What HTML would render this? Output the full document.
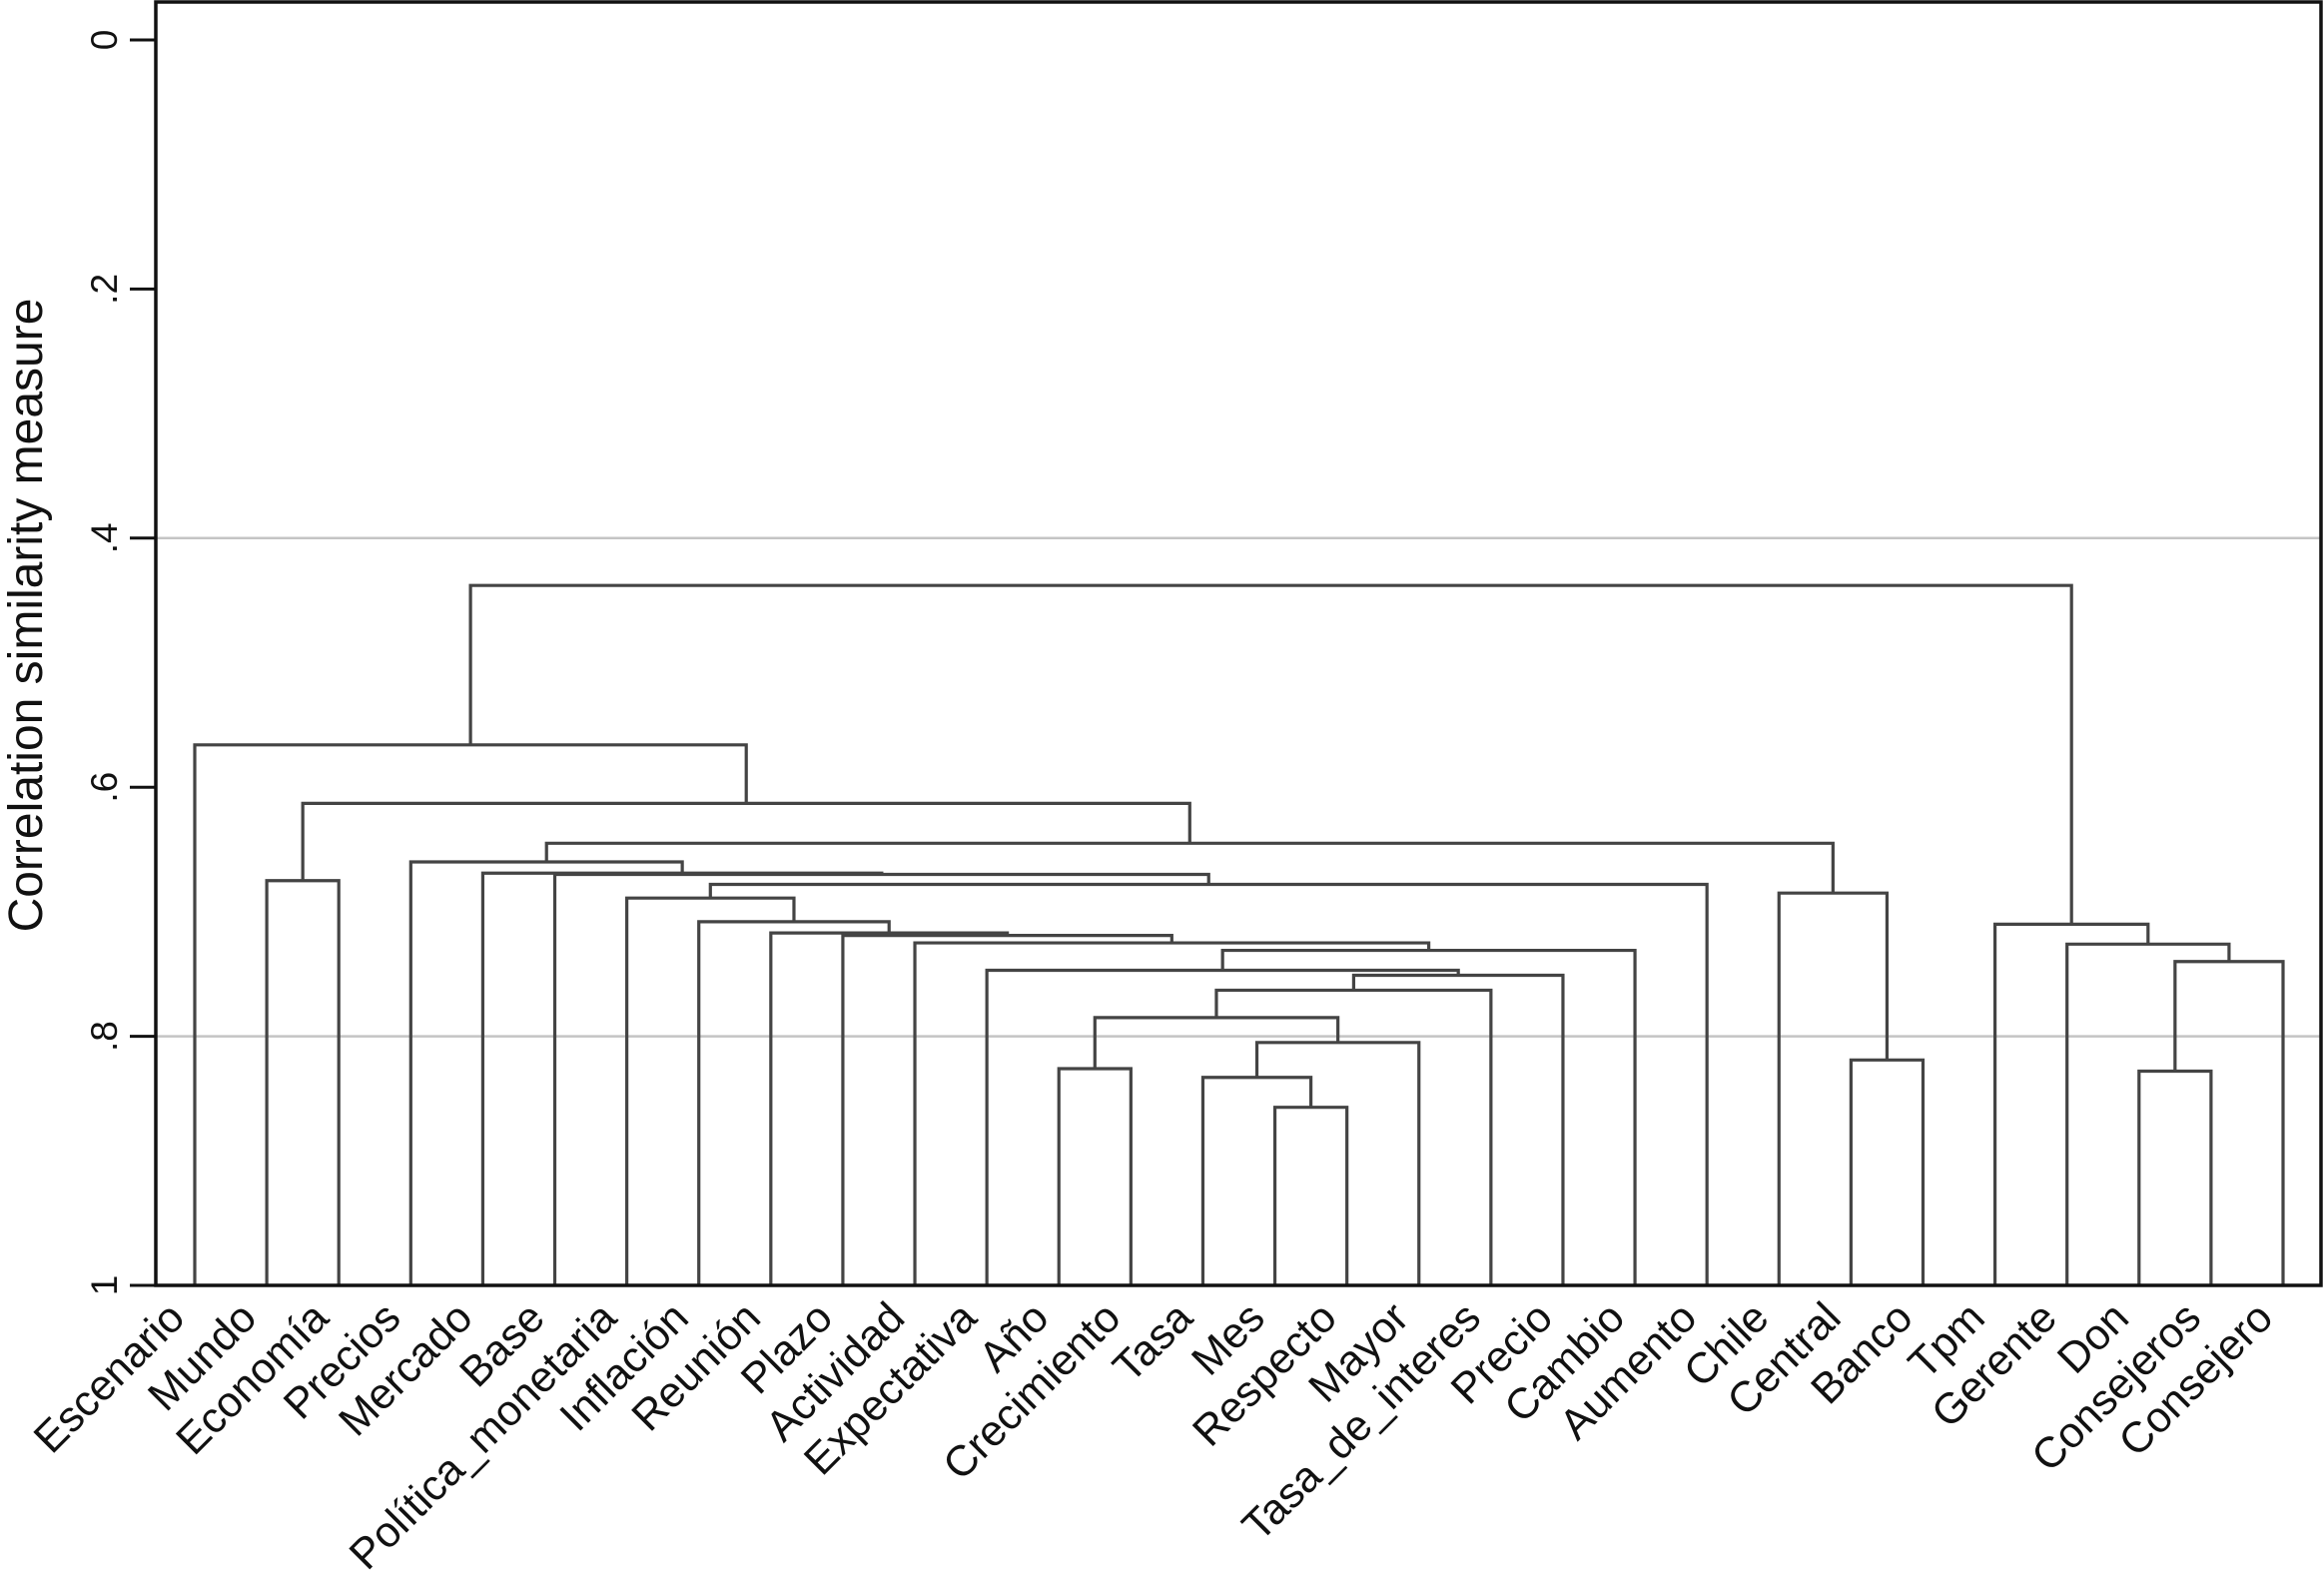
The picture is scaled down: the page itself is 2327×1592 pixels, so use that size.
<!DOCTYPE html>
<html><head><meta charset="utf-8"><style>
html,body{margin:0;padding:0;background:#fff;}
svg{display:block;}
text{font-family:"Liberation Sans",Arial,sans-serif;fill:#111;}
</style></head><body>
<svg id="chart" xmlns="http://www.w3.org/2000/svg" width="2327" height="1592" viewBox="0 0 2327 1592">
<rect x="0" y="0" width="2327" height="1592" fill="#fff"/>
<g id="grid"></g>
<g id="tree"></g>
<g id="axis"></g>
<g id="labels"></g>
</svg>
<script>
const leaves = ["Escenario","Mundo","Economía","Precios","Mercado","Base","Política_monetaria","Inflación","Reunión","Plazo","Actividad","Expectativa","Año","Crecimiento","Tasa","Mes","Respecto","Mayor","Tasa_de_interes","Precio","Cambio","Aumento","Chile","Central","Banco","Tpm","Gerente","Don","Consejeros","Consejero"];
// merges: ids < 30 are leaves, id 30+k is merge k
const mergeLeft  = [15,14,12,31,32,34,35,11,37,10, 9, 8, 7, 6,43, 5, 4, 3,23,22,47, 1,51, 0,27,54,26,25,53];
const mergeRight = [16,30,13,17,33,18,19,36,20,38,39,40,41,42,21,44,45,46,24,48,49, 2,50,52,28,29,55,56,57];
const mergeHeight = [.857,.833,.826,.805,.785,.763,.751,.747,.731,.725,.719,.717,.708,.689,.678,.670,.669,.660,.819,.685,.645,.675,.613,.566,.828,.740,.726,.710,.438];
const yTicks = [0,.2,.4,.6,.8,1];
const yTickLabels = ["0",".2",".4",".6",".8","1"];
const gridValues = [.4,.8];

const NS="http://www.w3.org/2000/svg";
const L=156,R=2324,T=2,B=1287;
const y0=40,y1=1287;
const yScale=v=>y0+v*(y1-y0);
const xLeaf=i=>195+i*(2286-195)/(leaves.length-1);
function mk(tag,attrs,parent){const e=document.createElementNS(NS,tag);for(const k in attrs)e.setAttribute(k,attrs[k]);parent.appendChild(e);return e;}

const grid=document.getElementById('grid');
gridValues.forEach(v=>{
  const l=mk('line',{x1:L,x2:R,y1:yScale(v),y2:yScale(v),stroke:'#c4c4c4','stroke-width':2.5},grid);
  
  
});

const tree=document.getElementById('tree');
const posX={},posY={};
leaves.forEach((n,i)=>{posX[i]=xLeaf(i);posY[i]=yScale(1);});
mergeLeft.forEach((a,k)=>{
  const b=mergeRight[k],id=leaves.length+k,y=yScale(mergeHeight[k]);
  const d=`M${posX[a]},${posY[a]}V${y}H${posX[b]}V${posY[b]}`;
  const p=mk('path',{d:d,fill:'none',stroke:'#444','stroke-width':3.2},tree);
  
  
  posX[id]=(posX[a]+posX[b])/2;posY[id]=y;
});

const axis=document.getElementById('axis');
const fr=mk('rect',{x:L,y:T,width:R-L,height:B-T,fill:'none',stroke:'#111','stroke-width':3.5},axis);


yTicks.forEach((v,i)=>{
  const y=yScale(v);
  const t=mk('line',{x1:130,x2:L,y1:y,y2:y,stroke:'#111','stroke-width':3},axis);
  
  
  const tx=mk('text',{x:117,y:y,'font-size':37,'text-anchor':'middle',transform:`rotate(-90 117 ${y})`},axis);
  tx.textContent=yTickLabels[i];
  
  
});
const title=mk('text',{x:42,y:616,'font-size':48,'text-anchor':'middle',transform:'rotate(-90 42 616)'},axis);
title.textContent='Correlation similarity measure';



const lab=document.getElementById('labels');
leaves.forEach((n,i)=>{
  const x=xLeaf(i)-8,y=1322;
  const t=mk('text',{x:x,y:y,'font-size':43,'text-anchor':'end',transform:`rotate(-45 ${x} ${y})`},lab);
  t.textContent=n;
  
  
});
</script>
</body></html>
